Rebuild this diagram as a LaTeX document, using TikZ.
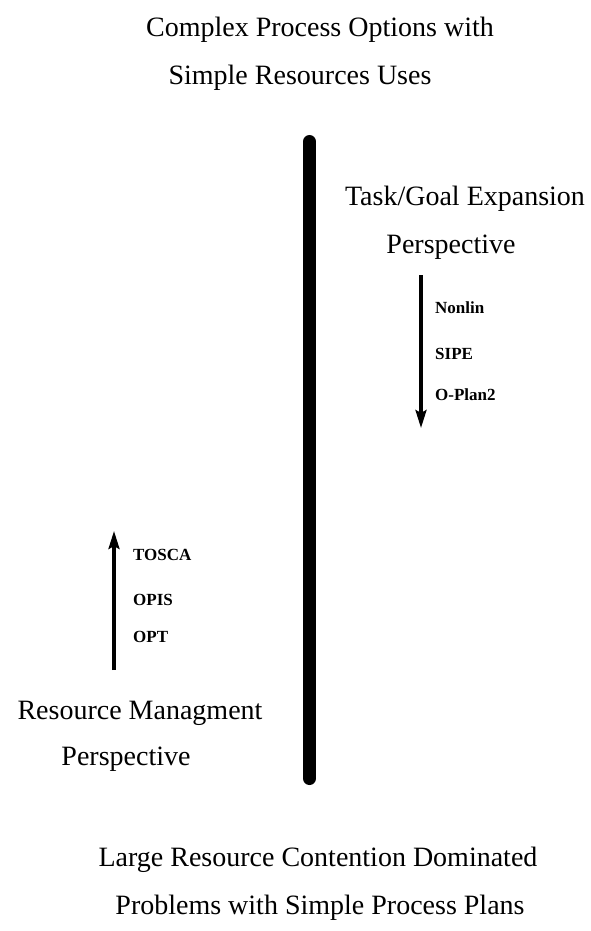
\documentclass[tikz,border=0pt]{standalone}
\usepackage{fontspec}
\setmainfont{Liberation Serif}
\usetikzlibrary{arrows.meta}
\definecolor{inkblack}{HTML}{000000}

\tikzset{
  bigtext/.style={text=inkblack, font=\fontsize{28}{34}\selectfont, anchor=base, inner sep=0pt},
  systext/.style={text=inkblack, font=\fontsize{17}{20}\selectfont\bfseries, anchor=base west, inner sep=0pt},
  dirarrow/.style={draw=inkblack, line width=3.2pt, -{Stealth[length=18pt,width=11pt,inset=3pt]}},
  divider/.style={draw=inkblack, line width=13pt, line cap=round}
}

\begin{document}
\begin{tikzpicture}[x=1pt, y=-1pt]
    \useasboundingbox (0,0) rectangle (591,931);
    % headings at top and bottom
    \node[bigtext] (top1) at (320,37) {Complex Process Options with};
    \node[bigtext] (top2) at (300,85) {Simple Resources Uses};
    \node[bigtext] (bot1) at (318,866) {Large Resource Contention Dominated};
    \node[bigtext] (bot2) at (320,914) {Problems with Simple Process Plans};
    % the dividing bar
    \coordinate (bartop) at (309.5,141.5);
    \coordinate (barbot) at (309.5,778.5);
    \draw[divider] (bartop) -- (barbot);
    % task/goal side
    \node[bigtext] (tg1) at (465,205) {Task/Goal Expansion};
    \node[bigtext] (tg2) at (451,253) {Perspective};
    \coordinate (tgstart) at (421,275);
    \coordinate (tgend) at (421,428);
    \draw[dirarrow] (tgstart) -- (tgend);
    \node[systext] (nonlin) at (435,313) {Nonlin};
    \node[systext] (sipe) at (435,359) {SIPE};
    \node[systext] (oplan) at (435,400) {O-Plan2};
    % resource side
    \coordinate (rmstart) at (114,670);
    \coordinate (rmend) at (114,531);
    \draw[dirarrow] (rmstart) -- (rmend);
    \node[systext] (tosca) at (133,560) {TOSCA};
    \node[systext] (opis) at (133,605) {OPIS};
    \node[systext] (opt) at (133,642) {OPT};
    \node[bigtext] (rm1) at (140,719) {Resource Managment};
    \node[bigtext] (rm2) at (126,765) {Perspective};
  \end{tikzpicture}
\end{document}
